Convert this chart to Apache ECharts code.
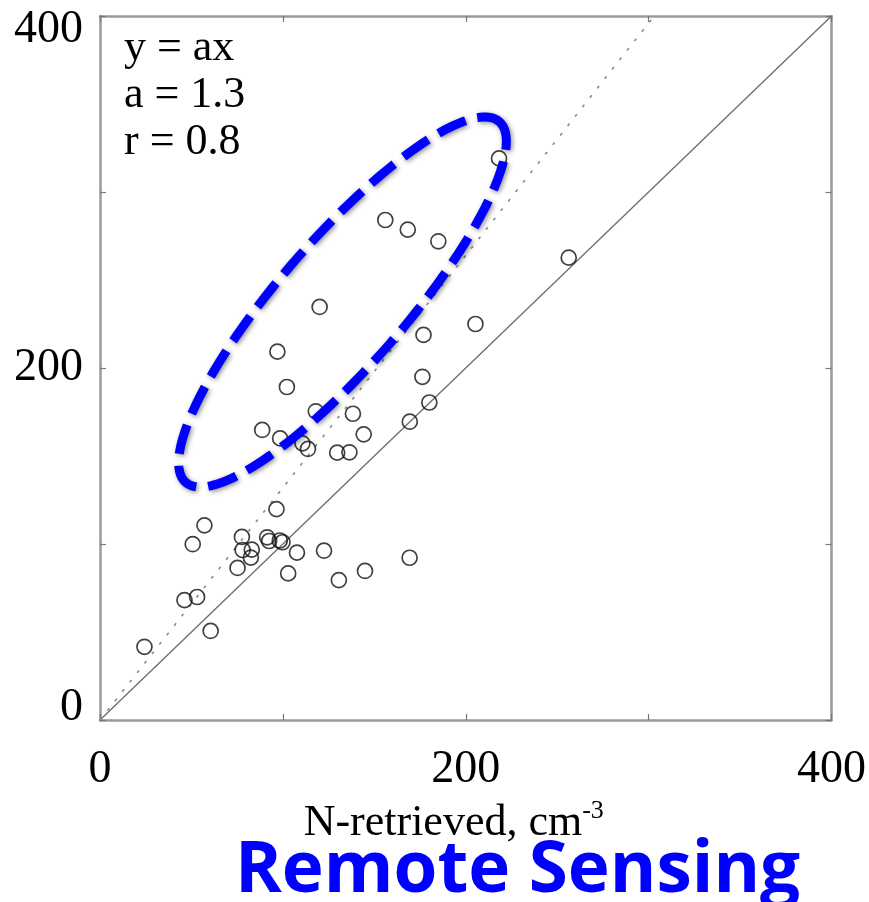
<!DOCTYPE html>
<html>
<head>
<meta charset="utf-8">
<script src="https://cdn.jsdelivr.net/npm/echarts@6/dist/echarts.min.js"></script>
<style>
html,body{margin:0;padding:0;background:#fff;}
#c{width:869px;height:902px;}
</style>
</head>
<body>
<div id="c"></div>
<script>
// ---- data ----
const xTickLabels = ['0', '200', '400'];
const yTickLabels = ['0', '200', '400'];
const xName = 'N-retrieved, cm';
const xNameSup = '-3';
const fitText = ['y = ax', 'a = 1.3', 'r = 0.8'];
const fitSlope = 1.32;
const bannerText = 'Remote Sensing';
const pointsX = [24.3, 46.2, 53.1, 60.5, 50.7, 57.1, 75.2, 77.6, 78.0, 82.5, 83.0,
  91.4, 92.5, 98.3, 99.8, 102.9, 107.7, 96.5, 122.5, 130.6, 144.9, 169.3,
  88.7, 98.5, 110.7, 113.7, 118.0, 129.7, 136.4, 138.3, 144.2, 169.4, 180.1,
  176.3, 102.2, 97.0, 120.1, 176.9, 205.3, 156.0, 168.3, 185.0, 218.2, 256.3];
const pointsY = [41.6, 68.1, 69.9, 50.6, 99.9, 110.6, 86.4, 104.0, 96.6, 92.3, 96.8,
  103.8, 101.7, 102.0, 101.0, 83.3, 95.1, 119.8, 96.2, 79.5, 84.7, 92.2,
  164.8, 160.0, 157.2, 154.0, 175.4, 151.9, 152.1, 174.0, 162.3, 169.5, 180.4,
  195.0, 189.2, 209.3, 234.7, 218.8, 225.0, 284.1, 278.6, 272.0, 319.1, 262.7];
// highlighted group (ellipse annotation) centre in data units
const ellipseCenter = [132.6, 237.5];

const chart = echarts.init(document.getElementById('c'), null, {renderer: 'canvas'});
const serif = '"Liberation Serif", "DejaVu Serif", serif';
const frameColor = '#9a9a9a';

const scatterData = pointsX.map((x, i) => [x, pointsY[i]]);

function tickLabel(list) {
  return function (v) {
    const s = String(v);
    if (list.indexOf(s) < 0) return '';
    if (v === 0) return '{lo|' + s + '}';
    if (v === 400) return '{hi|' + s + '}';
    return '{n|' + s + '}';
  };
}

const baseAxis = {
  min: 0, max: 400, interval: 100,
  axisLine: {show: true, onZero: false, lineStyle: {color: frameColor, width: 2.5}},
  axisTick: {show: true, inside: true, length: 6, lineStyle: {color: '#777', width: 1.2}},
  splitLine: {show: false}
};

const option = {
  backgroundColor: '#fff',
  animation: false,
  grid: {left: 100, right: 33, top: 16, bottom: 182},
  xAxis: [
    Object.assign({}, baseAxis, {
      type: 'value', position: 'bottom',
      axisLabel: {
        formatter: tickLabel(xTickLabels), margin: 27,
        color: '#000', fontFamily: serif, fontSize: 46,
        rich: {n: {fontFamily: serif, fontSize: 46, color: '#000'},
               lo: {fontFamily: serif, fontSize: 46, color: '#000'},
               hi: {fontFamily: serif, fontSize: 46, color: '#000'}}
      },
      name: xName + '{sup|' + xNameSup + '}',
      nameLocation: 'middle', nameGap: 78,
      nameTextStyle: {
        fontFamily: serif, fontSize: 44, color: '#000', padding: [0, 24, 0, 0],
        rich: {sup: {fontFamily: serif, fontSize: 26, color: '#000', verticalAlign: 'top', padding: [0, 0, 24, 0]}}
      }
    }),
    Object.assign({}, baseAxis, {
      type: 'value', position: 'top', axisLabel: {show: false}
    })
  ],
  yAxis: [
    Object.assign({}, baseAxis, {
      type: 'value', position: 'left',
      axisLabel: {
        formatter: tickLabel(yTickLabels), margin: 17,
        color: '#000', fontFamily: serif, fontSize: 46,
        rich: {n: {fontFamily: serif, fontSize: 46, color: '#000'},
               lo: {fontFamily: serif, fontSize: 46, color: '#000', padding: [0, 0, 24, 0]},
               hi: {fontFamily: serif, fontSize: 46, color: '#000', padding: [28, 0, 0, 0]}}
      }
    }),
    Object.assign({}, baseAxis, {
      type: 'value', position: 'right', axisLabel: {show: false}
    })
  ],
  series: [
    {
      type: 'line', data: [[0, 0], [400, 400]], symbol: 'none',
      lineStyle: {color: '#707070', width: 1.4}, silent: true, z: 1
    },
    {
      type: 'line', data: [[0, 0], [400 / fitSlope, 400]], symbol: 'none',
      lineStyle: {color: '#8a8a8a', width: 1.6, type: [3, 9]}, silent: true, z: 1
    },
    {
      type: 'scatter', data: scatterData, symbol: 'circle', symbolSize: 15,
      itemStyle: {color: 'rgba(0,0,0,0)', borderColor: '#111', borderWidth: 1.7},
      z: 3
    }
  ],
  graphic: []
};

chart.setOption(option);

// annotation: fit text + dashed ellipse + banner
const c = chart.convertToPixel({gridIndex: 0}, ellipseCenter);
const a = 239, b = 63, th = 49 * Math.PI / 180;
const pts = [];
for (let i = 0; i < 180; i++) {
  const t = i / 180 * Math.PI * 2;
  pts.push([
    c[0] + a * Math.cos(t) * Math.cos(th) + b * Math.sin(t) * Math.sin(th),
    c[1] - a * Math.cos(t) * Math.sin(th) + b * Math.sin(t) * Math.cos(th)
  ]);
}
chart.setOption({
  graphic: [
    {
      type: 'text', left: 124, top: 25, z: 10,
      style: {text: fitText.join('\n'), font: '44px ' + serif, lineHeight: 47, fill: '#000'}
    },
    {
      type: 'polygon', z: 20,
      shape: {points: pts},
      style: {
        fill: 'none', stroke: '#0000ff', lineWidth: 9, lineDash: [30, 12],
        shadowBlur: 5, shadowColor: 'rgba(0,0,0,0.45)', shadowOffsetX: 1.5, shadowOffsetY: 1.5
      }
    },
    {
      type: 'text', left: 235, top: 836, z: 10,
      style: {text: bannerText, font: 'bold 71px "Open Sans", Lato, sans-serif', fill: '#0000ff'}
    }
  ]
});
</script>
</body>
</html>
